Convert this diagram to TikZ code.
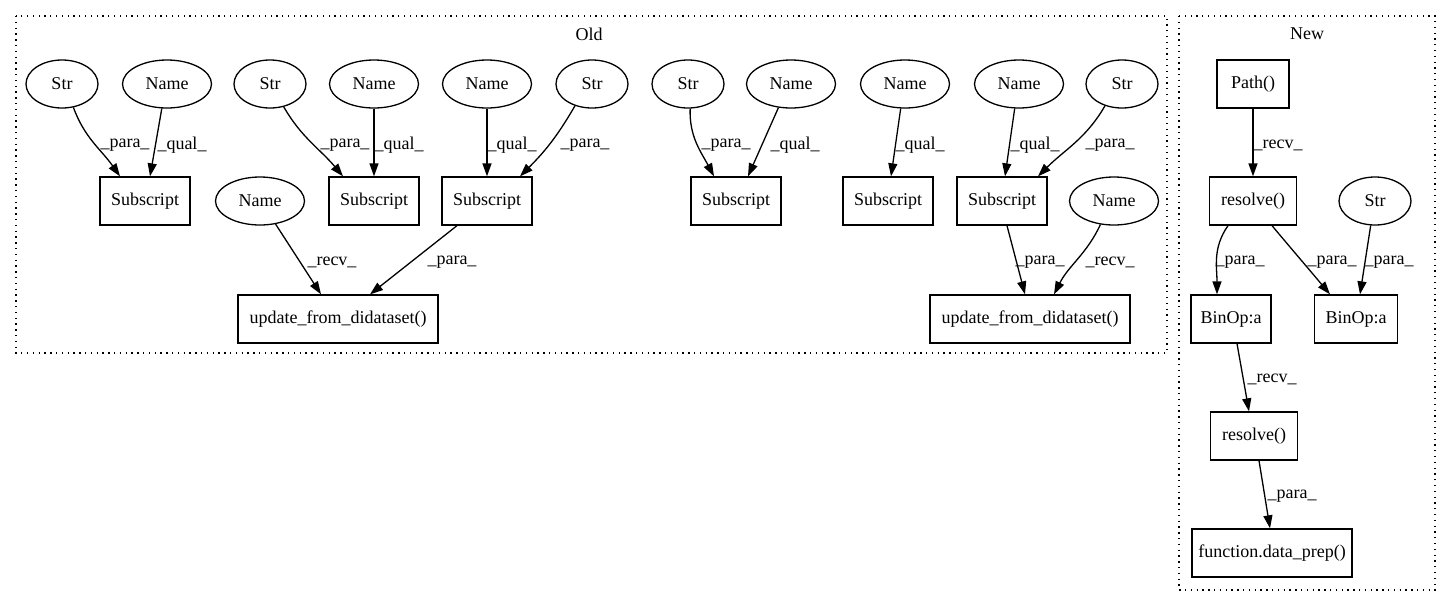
\documentclass[tikz,border=0pt]{standalone}
\usepackage{fontspec}
\setmainfont{Liberation Serif}
\usetikzlibrary{shapes.geometric,arrows.meta}
\tikzstyle{ell} = [draw, ellipse, line width=1.3pt, inner sep=0pt, minimum height=48pt]
\tikzstyle{str} = [ell, minimum width=72pt]
\tikzstyle{nam} = [ell, minimum width=89pt]
\tikzstyle{box} = [draw, rectangle, line width=1.3pt, inner sep=0pt, minimum height=48pt]
\tikzstyle{lbl} = [inner sep=0pt]
\tikzstyle{cluster} = [line width=1.3pt, dash pattern=on 1.3pt off 4.5pt]

\begin{document}
\begin{tikzpicture}[x=1pt, y=-1pt, font=\fontsize{18}{21}\selectfont,
    >={Triangle[length=13pt,width=9pt]}, every edge/.style={draw, ->, line width=1.3pt}]
    \useasboundingbox (0,0) rectangle (1451,606);
    % the two clusters
    \draw[cluster] (16,16) rectangle (1167,353);
    \draw[cluster] (1179,16) rectangle (1435,590);
    \node[lbl] (old) at (589,34) {Old};
    \node[lbl] (new) at (1307,34) {New};
    % Old: top row
    \node[str] (str1) at (62,84) {Str};
    \node[nam] (name1) at (167,84) {Name};
    \node[str] (str2) at (270,84) {Str};
    \node[nam] (name2) at (374,84) {Name};
    \node[nam] (name3) at (487,84) {Name};
    \node[str] (str3) at (592,84) {Str};
    \node[str] (str4) at (688,84) {Str};
    \node[nam] (name5) at (791,84) {Name};
    \node[nam] (name6) at (905,84) {Name};
    \node[nam] (name7) at (1019,84) {Name};
    \node[str] (str5) at (1122,84) {Str};
    % Old: second row
    \node[box, minimum width=90pt] (sub1) at (145,201) {Subscript};
    \node[nam] (name4) at (260,201) {Name};
    \node[box, minimum width=90pt] (sub2) at (374,201) {Subscript};
    \node[box, minimum width=90pt] (sub3) at (487,201) {Subscript};
    \node[box, minimum width=90pt] (sub4) at (736,201) {Subscript};
    \node[box, minimum width=90pt] (sub5) at (888,201) {Subscript};
    \node[box, minimum width=90pt] (sub6) at (1002,201) {Subscript};
    \node[nam] (name8) at (1114,201) {Name};
    % Old: third row
    \node[box, minimum width=200pt] (upd1) at (338,319) {update\_from\_didataset()};
    \node[box, minimum width=200pt] (upd2) at (1030,319) {update\_from\_didataset()};
    % New
    \node[box, minimum width=72pt] (path) at (1253,84) {Path()};
    \node[box, minimum width=87pt] (res1) at (1253,201) {resolve()};
    \node[str] (str6) at (1375,201) {Str};
    \node[box, minimum width=80pt] (binop1) at (1231,319) {BinOp:a};
    \node[box, minimum width=83pt] (binop2) at (1356,319) {BinOp:a};
    \node[box, minimum width=87pt] (res2) at (1254,436) {resolve()};
    \node[box, minimum width=160pt] (prep) at (1272,553) {function.data\_prep()};
    % Old edges
    \draw (str1.-64) edge[out=-70, in=125] ([xshift=-25pt]sub1.north);
    \draw (name1.-102) edge ([xshift=5pt]sub1.north);
    \draw (str2.-59) edge[out=-60, in=130] ([xshift=-31pt]sub2.north);
    \draw (name2) edge (sub2);
    \draw (name3) edge (sub3);
    \draw (str3.-128) edge[out=-120, in=45] ([xshift=33pt]sub3.north);
    \draw (name4.-56) edge ([xshift=-17pt]upd1.north);
    \draw ([xshift=-30pt]sub3.south) edge ([xshift=32pt]upd1.north);
    \draw (str4.-85) edge[out=-92, in=118] ([xshift=-22pt]sub4.north);
    \draw (name5.-118) edge ([xshift=12pt]sub4.north);
    \draw (name6.-100) edge ([xshift=3pt]sub5.north);
    \draw (name7.-100) edge ([xshift=3pt]sub6.north);
    \draw (str5.-128) edge[out=-120, in=45] ([xshift=36pt]sub6.north);
    \draw ([xshift=5pt]sub6.south) edge ([xshift=-5pt]upd2.north);
    \draw (name8.-120) edge[out=-115, in=63] ([xshift=24pt]upd2.north);
    % New edges
    \draw (path) edge (res1);
    \draw ([xshift=-25pt]res1.south) edge[out=-125, in=90] ([xshift=-14pt]binop1.north);
    \draw ([xshift=19pt]res1.south) edge[out=-50, in=130] ([xshift=-26pt]binop2.north);
    \draw (str6.-100) edge ([xshift=4pt]binop2.north);
    \draw ([xshift=6pt]binop1.south) edge ([xshift=-5pt]res2.north);
    \draw ([xshift=5pt]res2.south) edge ([xshift=-2pt]prep.north);
    % edge labels
    \node[lbl] (l1) at (125,145) {\_para\_};
    \node[lbl] (l2) at (182,145) {\_qual\_};
    \node[lbl] (l3) at (345,145) {\_para\_};
    \node[lbl] (l4) at (399,145) {\_qual\_};
    \node[lbl] (l5) at (512,145) {\_qual\_};
    \node[lbl] (l6) at (585,145) {\_para\_};
    \node[lbl] (l7) at (726,145) {\_para\_};
    \node[lbl] (l8) at (795,145) {\_qual\_};
    \node[lbl] (l9) at (920,145) {\_qual\_};
    \node[lbl] (l10) at (1035,145) {\_qual\_};
    \node[lbl] (l11) at (1110,145) {\_para\_};
    \node[lbl] (l12) at (332,262) {\_recv\_};
    \node[lbl] (l13) at (452,262) {\_para\_};
    \node[lbl] (l14) at (1040,262) {\_para\_};
    \node[lbl] (l15) at (1110,262) {\_recv\_};
    \node[lbl] (l16) at (1278,145) {\_recv\_};
    \node[lbl] (l17) at (1240,262) {\_para\_};
    \node[lbl] (l18) at (1332,262) {\_para\_};
    \node[lbl] (l19) at (1389,262) {\_para\_};
    \node[lbl] (l20) at (1272,379) {\_recv\_};
    \node[lbl] (l21) at (1292,496) {\_para\_};
\end{tikzpicture}
\end{document}
